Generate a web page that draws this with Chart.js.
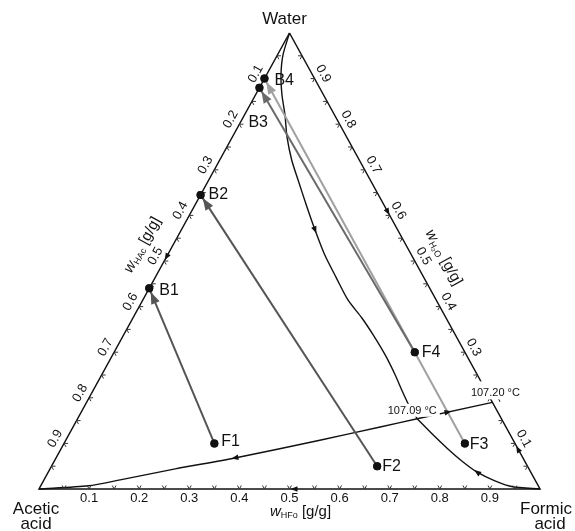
<!DOCTYPE html>
<html><head><meta charset="utf-8">
<script src="https://cdn.jsdelivr.net/npm/chart.js@4.4.0/dist/chart.umd.min.js"></script>
<style>html,body{margin:0;padding:0;background:#fff}#wrap{width:575px;height:531px;position:relative}</style>
</head><body><div id="wrap"><canvas id="c"></canvas></div>
<script>
// ---- DATA (mass fractions: w_HFo, w_H2O; w_HAc = 1 - both) ----
const tickValues = [0.1,0.2,0.3,0.4,0.5,0.6,0.7,0.8,0.9];
const tickLabels = ["0.1","0.2","0.3","0.4","0.5","0.6","0.7","0.8","0.9"];
const minorTicks = [0.05,0.1,0.15,0.2,0.25,0.3,0.35,0.4,0.45,0.5,0.55,0.6,0.65,0.7,0.75,0.8,0.85,0.9,0.95];

const pointNames = ["F1","F2","F3","F4","B1","B2","B3","B4"];
const pointHFo   = [0.30, 0.65, 0.80, 0.60, 0.00, 0.00, 0.00, 0.00];
const pointH2O   = [0.10, 0.05, 0.10, 0.30, 0.44, 0.645, 0.88, 0.90];

const arrowFrom  = ["F1","F2","F3","F4"];
const arrowTo    = ["B1","B2","B4","B3"];

// residue curve from the water vertex to the ternary saddle azeotrope
const curveWaterHFo = [0.000,0.011,0.029,0.053,0.081,0.109,0.144,0.178,0.222,0.267,0.314,0.362,0.410,0.457,0.498,0.544,0.586,0.621,0.650,0.678];
const curveWaterH2O = [1.000,0.952,0.908,0.864,0.820,0.772,0.721,0.678,0.623,0.568,0.513,0.463,0.414,0.375,0.338,0.294,0.250,0.211,0.180,0.154];
// boundary from saddle to acetic acid
const curveAceticHFo = [0.678,0.613,0.507,0.357,0.250,0.152,0.095,0.000];
const curveAceticH2O = [0.154,0.136,0.107,0.068,0.044,0.020,0.007,0.000];
// boundary from formic acid to saddle
const curveFormicHFo = [0.678,0.724,0.769,0.814,0.856,0.901,0.943,1.000];
const curveFormicH2O = [0.154,0.121,0.090,0.061,0.037,0.018,0.005,0.000];
// link saddle -> binary azeotrope
const curveLinkHFo = [0.678,0.810];
const curveLinkH2O = [0.154,0.190];

// azeotropes
const azeoNames = ["107.09 °C","107.20 °C"];
const azeoHFo = [0.678,0.810];
const azeoH2O = [0.154,0.190];

// direction arrows on curves: position and a point it heads toward
const dirAtHFo = [0.267,0.357,0.856,0.732,0.912,0.3925,0.0,0.509];
const dirAtH2O = [0.568,0.068,0.037,0.169,0.0877,0.6075,0.509,0.0];
const dirToHFo = [0.314,0.250,0.814,0.810,0.810,0.5,0.0,0.4];
const dirToH2O = [0.513,0.044,0.061,0.190,0.190,0.5,0.4,0.0];

// ---- helpers ----
const FONT = '"Liberation Sans", Arial, sans-serif';
const tern = (hfo, h2o) => ({x: hfo + h2o/2, y: h2o});
const series = (a, b) => a.map((v,i) => tern(v, b[i]));
const idx = n => pointNames.indexOf(n);

const X_MIN = -39/501, X_MAX = X_MIN + 575/501;
const Y_MAX = 1 + 33/456, Y_MIN = Y_MAX - 531/456;

const lineDs = (data, color, width, tension, order) => ({
  data, showLine: true, borderColor: color, borderWidth: width, pointRadius: 0,
  tension: tension, fill: false, order: order, clip: false
});

const arrowColors = ["#555555","#555555","#a0a0a0","#6a6a6a"];

const datasets = [];
datasets.push(Object.assign(lineDs(series(pointHFo, pointH2O), "#000", 0, 0, 0), {
  showLine: false, pointRadius: 4, pointBackgroundColor: "#111", pointBorderColor: "#111", borderWidth: 0
}));
arrowFrom.forEach((f,i) => {
  const a = idx(f), b = idx(arrowTo[i]);
  datasets.push(lineDs([tern(pointHFo[a], pointH2O[a]), tern(pointHFo[b], pointH2O[b])], arrowColors[i], 2, 0, 1 + (i===2 ? 1 : 0)));
});
datasets.push(lineDs([tern(0,1), tern(0,0), tern(1,0), tern(0,1)], "#111", 1.5, 0, 5));
datasets.push(lineDs(series(curveWaterHFo, curveWaterH2O), "#111", 1.4, 0.25, 5));
datasets.push(lineDs(series(curveAceticHFo, curveAceticH2O), "#111", 1.4, 0.25, 5));
datasets.push(lineDs(series(curveFormicHFo, curveFormicH2O), "#111", 1.4, 0.25, 5));
datasets.push(lineDs(series(curveLinkHFo, curveLinkH2O), "#111", 1.4, 0, 5));

function head(ctx, tip, ang, len, hw, color){
  ctx.save();
  ctx.fillStyle = color;
  ctx.beginPath();
  ctx.moveTo(tip.x, tip.y);
  const bx = tip.x - len*Math.cos(ang), by = tip.y - len*Math.sin(ang);
  ctx.lineTo(bx + hw*Math.sin(ang), by - hw*Math.cos(ang));
  ctx.lineTo(bx - hw*Math.sin(ang), by + hw*Math.cos(ang));
  ctx.closePath();
  ctx.fill();
  ctx.restore();
}

function richText(ctx, parts, cx, cy, ang){
  ctx.save();
  ctx.translate(cx, cy);
  ctx.rotate(ang);
  let total = 0;
  parts.forEach(p => { ctx.font = p.font; total += ctx.measureText(p.t).width; });
  let x = -total/2;
  ctx.textBaseline = "middle";
  ctx.textAlign = "left";
  ctx.fillStyle = "#111";
  parts.forEach(p => { ctx.font = p.font; ctx.fillText(p.t, x, p.dy); x += ctx.measureText(p.t).width; });
  ctx.restore();
}

const ternaryPlugin = {
  id: "ternary",
  afterDatasetsDraw(chart){
    const ctx = chart.ctx, xs = chart.scales.x, ys = chart.scales.y;
    const P = (hfo, h2o) => ({x: xs.getPixelForValue(hfo + h2o/2), y: ys.getPixelForValue(h2o)});
    const W = P(0,1), A = P(0,0), F = P(1,0);
    const unit = (p, q) => { const dx = q.x-p.x, dy = q.y-p.y, l = Math.hypot(dx,dy); return {x: dx/l, y: dy/l}; };
    const uAW = unit(A,W), uFW = unit(F,W), uWF = unit(W,F), uAF = unit(A,F), uWA = unit(W,A), uFA = unit(F,A);

    // minor tick marks
    ctx.save();
    ctx.strokeStyle = "#333"; ctx.lineWidth = 1;
    const tl = 4;
    const tick = (p, d1, d2) => {
      ctx.beginPath();
      ctx.moveTo(p.x + d1.x*tl, p.y + d1.y*tl); ctx.lineTo(p.x, p.y); ctx.lineTo(p.x + d2.x*tl, p.y + d2.y*tl);
      ctx.stroke();
    };
    minorTicks.forEach(v => {
      tick(P(v,0), uFW, uAW);        // bottom (w_HFo)
      tick(P(0,1-v), uWF, uAF);      // left (w_HAc)
      tick(P(1-v,v), uWA, uFA);      // right (w_H2O)
    });
    ctx.restore();

    // tick labels
    const angL = Math.atan2(W.y - A.y, W.x - A.x);
    const angR = Math.atan2(F.y - W.y, F.x - W.x);
    const nL = {x: Math.sin(angL), y: -Math.cos(angL)};
    const nR = {x: Math.sin(angR), y: -Math.cos(angR)};
    ctx.save();
    ctx.fillStyle = "#111"; ctx.font = "13px " + FONT;
    ctx.textAlign = "center"; ctx.textBaseline = "middle";
    tickValues.forEach((v,i) => {
      const b = P(v,0);
      ctx.fillText(tickLabels[i], b.x, b.y + 9);
      const l = P(0,1-v);
      ctx.save(); ctx.translate(l.x + nL.x*10, l.y + nL.y*10); ctx.rotate(angL); ctx.fillText(tickLabels[i], 0, 0); ctx.restore();
      const r = P(1-v,v);
      ctx.save(); ctx.translate(r.x + nR.x*10, r.y + nR.y*10); ctx.rotate(angR); ctx.fillText(tickLabels[i], 0, 0); ctx.restore();
    });
    ctx.restore();

    // axis titles
    const big = "15px " + FONT, it = "italic 15px " + FONT, sub = "9px " + FONT;
    const bm = P(0.5,0);
    richText(ctx, [{t:"w",font:it,dy:0},{t:"HFo",font:sub,dy:4},{t:" [g/g]",font:big,dy:0}], bm.x + 11, bm.y + 23, 0);
    const lm = P(0,0.507);
    richText(ctx, [{t:"w",font:it,dy:0},{t:"HAc",font:sub,dy:4},{t:" [g/g]",font:big,dy:0}], lm.x + nL.x*27, lm.y + nL.y*27, angL);
    const rm = P(0.521,0.479);
    richText(ctx, [{t:"w",font:it,dy:0},{t:"H₂O",font:sub,dy:4},{t:" [g/g]",font:big,dy:0}], rm.x + nR.x*27, rm.y + nR.y*27, angR);

    // vertex names
    ctx.save();
    ctx.fillStyle = "#111"; ctx.font = "17px " + FONT; ctx.textAlign = "center"; ctx.textBaseline = "middle";
    ctx.fillText("Water", W.x - 5, W.y - 14);
    ctx.fillText("Acetic", A.x - 3, A.y + 20);
    ctx.fillText("acid", A.x - 3, A.y + 35);
    ctx.fillText("Formic", F.x + 6, F.y + 20);
    ctx.fillText("acid", F.x + 10, F.y + 35);
    ctx.restore();

    // curve direction arrows
    dirAtHFo.forEach((h,i) => {
      const c = P(h, dirAtH2O[i]), t = P(dirToHFo[i], dirToH2O[i]);
      const ang = Math.atan2(t.y - c.y, t.x - c.x);
      head(ctx, {x: c.x + 3.5*Math.cos(ang), y: c.y + 3.5*Math.sin(ang)}, ang, 7, 2.8, "#111");
    });

    // gray arrow heads
    arrowFrom.forEach((f,i) => {
      const a = idx(f), b = idx(arrowTo[i]);
      const pa = P(pointHFo[a], pointH2O[a]), pb = P(pointHFo[b], pointH2O[b]);
      const ang = Math.atan2(pb.y - pa.y, pb.x - pa.x);
      head(ctx, {x: pb.x - 4*Math.cos(ang), y: pb.y - 4*Math.sin(ang)}, ang, 12, 4.5, arrowColors[i]);
    });

    // state points on top
    ctx.save();
    ctx.fillStyle = "#111";
    pointNames.forEach((n,i) => {
      const p = P(pointHFo[i], pointH2O[i]);
      ctx.beginPath(); ctx.arc(p.x, p.y, 4, 0, Math.PI*2); ctx.fill();
    });
    ctx.restore();

    // point labels
    const off = {F1:[7,-2],F2:[5,0],F3:[5,1],F4:[7,0],B1:[10,2],B2:[8,0],B3:[-11,35],B4:[10,2]};
    ctx.save();
    ctx.fillStyle = "#111"; ctx.font = "16px " + FONT; ctx.textAlign = "left"; ctx.textBaseline = "middle";
    pointNames.forEach((n,i) => {
      const p = P(pointHFo[i], pointH2O[i]);
      ctx.fillText(n, p.x + off[n][0], p.y + off[n][1]);
    });
    ctx.restore();

    // azeotrope labels on white boxes (hiding what lies beneath)
    ctx.save();
    ctx.font = "11px " + FONT; ctx.textAlign = "center"; ctx.textBaseline = "middle";
    const s = P(azeoHFo[0], azeoH2O[0]);
    const w0 = ctx.measureText(azeoNames[0]).width;
    ctx.fillStyle = "#fff";
    ctx.fillRect(s.x - 5 - w0/2 - 2, s.y - 15, w0 + 5, 13);
    ctx.fillStyle = "#111";
    ctx.fillText(azeoNames[0], s.x - 5, s.y - 8);
    const z = P(azeoHFo[1], azeoH2O[1]);
    const w1 = ctx.measureText(azeoNames[1]).width;
    ctx.fillStyle = "#fff";
    ctx.fillRect(z.x + 3 - w1/2 - 2, z.y - 21, w1 + 6, 18);
    ctx.fillStyle = "#111";
    ctx.fillText(azeoNames[1], z.x + 3, z.y - 9);
    ctx.restore();
  }
};

new Chart(document.getElementById("c"), {
  type: "scatter",
  data: { datasets },
  options: {
    responsive: true, maintainAspectRatio: false, animation: false, events: [],
    layout: { padding: 0, autoPadding: false },
    plugins: { legend: {display:false}, tooltip: {enabled:false} },
    scales: {
      x: { type: "linear", display: false, min: X_MIN, max: X_MAX },
      y: { type: "linear", display: false, min: Y_MIN, max: Y_MAX }
    }
  },
  plugins: [ternaryPlugin]
});
</script></body></html>
